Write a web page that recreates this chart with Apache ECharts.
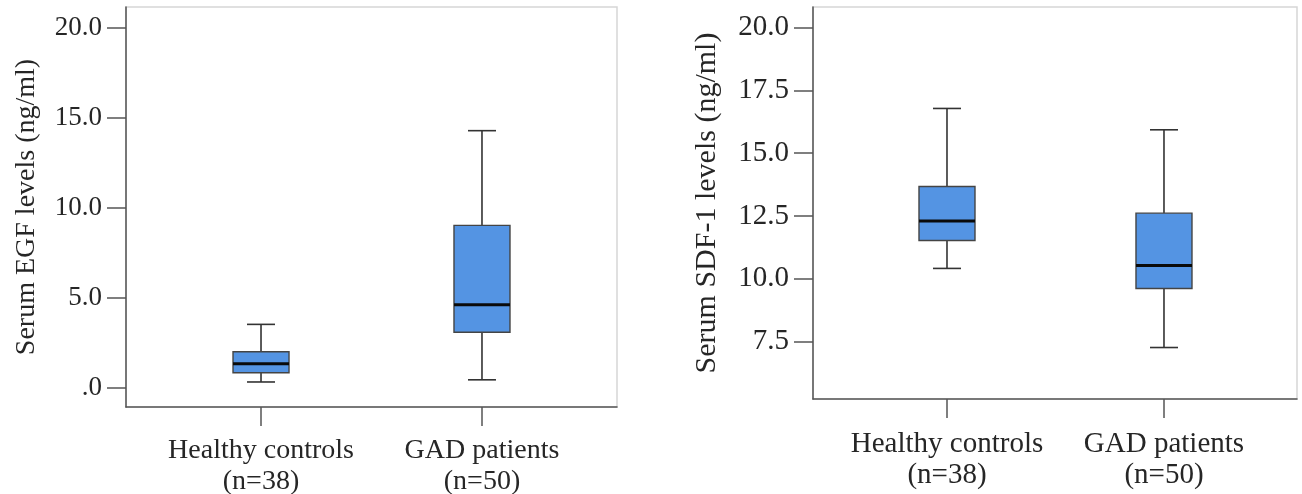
<!DOCTYPE html>
<html>
<head>
<meta charset="utf-8">
<title>EGF / SDF-1</title>
<script src="https://cdn.jsdelivr.net/npm/echarts@6/dist/echarts.min.js"></script>
<style>
  html, body { margin: 0; padding: 0; background: #fff; }
  #chartBox { width: 1302px; height: 494px; }
</style>
</head>
<body>
<div id="chartBox"></div>
<script>
// groups
const groupNames = ['Healthy controls', 'GAD patients'];
const groupN = ['(n=38)', '(n=50)'];

// serum EGF (ng/ml): whisker low, Q1, median, Q3, whisker high
const egfLow = [0.32, 0.44];
const egfQ1 = [0.83, 3.08];
const egfMedian = [1.33, 4.61];
const egfQ3 = [2.0, 9.02];
const egfHigh = [3.52, 14.28];

// serum SDF-1 (ng/ml)
const sdfLow = [10.41, 7.26];
const sdfQ1 = [11.52, 9.61];
const sdfMedian = [12.30, 10.53];
const sdfQ3 = [13.67, 12.61];
const sdfHigh = [16.78, 15.93];

const egfTicks = [0, 5, 10, 15, 20];
const sdfTicks = [7.5, 10, 12.5, 15, 17.5, 20];

const fontFam = 'Liberation Serif, Times New Roman, serif';
const textCol = '#262626';
const axisCol = '#555';

function boxRows(lo, q1, med, q3, hi) {
  return groupNames.map(function (name, i) {
    return [i, lo[i], q1[i], med[i], q3[i], hi[i]];
  });
}

// draws one box: whiskers with short caps, box, thick median
function renderBox(params, api) {
  const x = api.value(0);
  const pLo = api.coord([x, api.value(1)]);
  const pQ1 = api.coord([x, api.value(2)]);
  const pMed = api.coord([x, api.value(3)]);
  const pQ3 = api.coord([x, api.value(4)]);
  const pHi = api.coord([x, api.value(5)]);
  const half = 28, cap = 14;
  const cx = pMed[0];
  const lineStyle = { stroke: '#333', lineWidth: 1.6 };
  return {
    type: 'group',
    children: [
      { type: 'line', shape: { x1: cx, y1: pQ3[1], x2: cx, y2: pHi[1] }, style: lineStyle },
      { type: 'line', shape: { x1: cx, y1: pQ1[1], x2: cx, y2: pLo[1] }, style: lineStyle },
      { type: 'line', shape: { x1: cx - cap, y1: pHi[1], x2: cx + cap, y2: pHi[1] }, style: lineStyle },
      { type: 'line', shape: { x1: cx - cap, y1: pLo[1], x2: cx + cap, y2: pLo[1] }, style: lineStyle },
      {
        type: 'rect',
        shape: { x: cx - half, y: pQ3[1], width: half * 2, height: pQ1[1] - pQ3[1] },
        style: { fill: '#5494e3', stroke: '#444', lineWidth: 1.4 }
      },
      { type: 'line', shape: { x1: cx - half, y1: pMed[1], x2: cx + half, y2: pMed[1] }, style: { stroke: '#0a0a0a', lineWidth: 3 } }
    ]
  };
}

function xAxisFor(gridIndex, min, max, fontSize, margin) {
  return {
    type: 'value',
    gridIndex: gridIndex,
    min: min,
    max: max,
    splitLine: { show: false },
    axisLine: { show: true, onZero: false, lineStyle: { color: axisCol, width: 1.5 } },
    axisTick: { show: true, length: 19, customValues: [0, 1], lineStyle: { color: axisCol, width: 1.5 } },
    axisLabel: {
      customValues: [0, 1],
      margin: margin,
      fontFamily: fontFam,
      fontSize: fontSize,
      lineHeight: 31,
      color: textCol,
      formatter: function (v) {
        return groupNames[v] + '\n' + groupN[v];
      }
    }
  };
}

function yAxisFor(gridIndex, min, max, ticks, title, gap, fontSize, titleSize) {
  return {
    type: 'value',
    gridIndex: gridIndex,
    min: min,
    max: max,
    name: title,
    nameLocation: 'middle',
    nameGap: gap,
    nameTextStyle: { fontFamily: fontFam, fontSize: titleSize, color: textCol },
    splitLine: { show: false },
    axisLine: { show: true, onZero: false, lineStyle: { color: axisCol, width: 1.5 } },
    axisTick: { show: true, length: 19, customValues: ticks, lineStyle: { color: axisCol, width: 1.5 } },
    axisLabel: {
      customValues: ticks,
      margin: 24,
      fontFamily: fontFam,
      fontSize: fontSize,
      color: textCol,
      formatter: function (v) {
        return v === 0 ? '.0' : v.toFixed(1);
      }
    }
  };
}

let myChart = echarts.init(document.getElementById('chartBox'));

let option = {
  backgroundColor: '#fff',
  animation: false,
  grid: [
    { left: 126, right: 685, top: 7, bottom: 87, outerBoundsMode: 'none', containLabel: false, show: true, borderColor: '#d6d6d6', borderWidth: 1.5, backgroundColor: '#fff' },
    { left: 813, right: 5, top: 7, bottom: 95, outerBoundsMode: 'none', containLabel: false, show: true, borderColor: '#d6d6d6', borderWidth: 1.5, backgroundColor: '#fff' }
  ],
  xAxis: [
    xAxisFor(0, -0.611, 1.611, 28, 28),
    xAxisFor(1, -0.6175, 1.613, 29, 30)
  ],
  yAxis: [
    yAxisFor(0, -1.07, 21.15, egfTicks, 'Serum EGF levels (ng/ml)', 85, 27, 28),
    yAxisFor(1, 5.21, 20.82, sdfTicks, 'Serum SDF-1 levels (ng/ml)', 91, 29, 30)
  ],
  series: [
    {
      name: 'EGF',
      type: 'custom',
      xAxisIndex: 0,
      yAxisIndex: 0,
      renderItem: renderBox,
      encode: { x: 0, y: [1, 2, 3, 4, 5] },
      data: boxRows(egfLow, egfQ1, egfMedian, egfQ3, egfHigh)
    },
    {
      name: 'SDF-1',
      type: 'custom',
      xAxisIndex: 1,
      yAxisIndex: 1,
      renderItem: renderBox,
      encode: { x: 0, y: [1, 2, 3, 4, 5] },
      data: boxRows(sdfLow, sdfQ1, sdfMedian, sdfQ3, sdfHigh)
    }
  ]
};

myChart.setOption(option);
window.addEventListener('resize', function () {
  myChart.resize();
});
</script>
</body>
</html>
